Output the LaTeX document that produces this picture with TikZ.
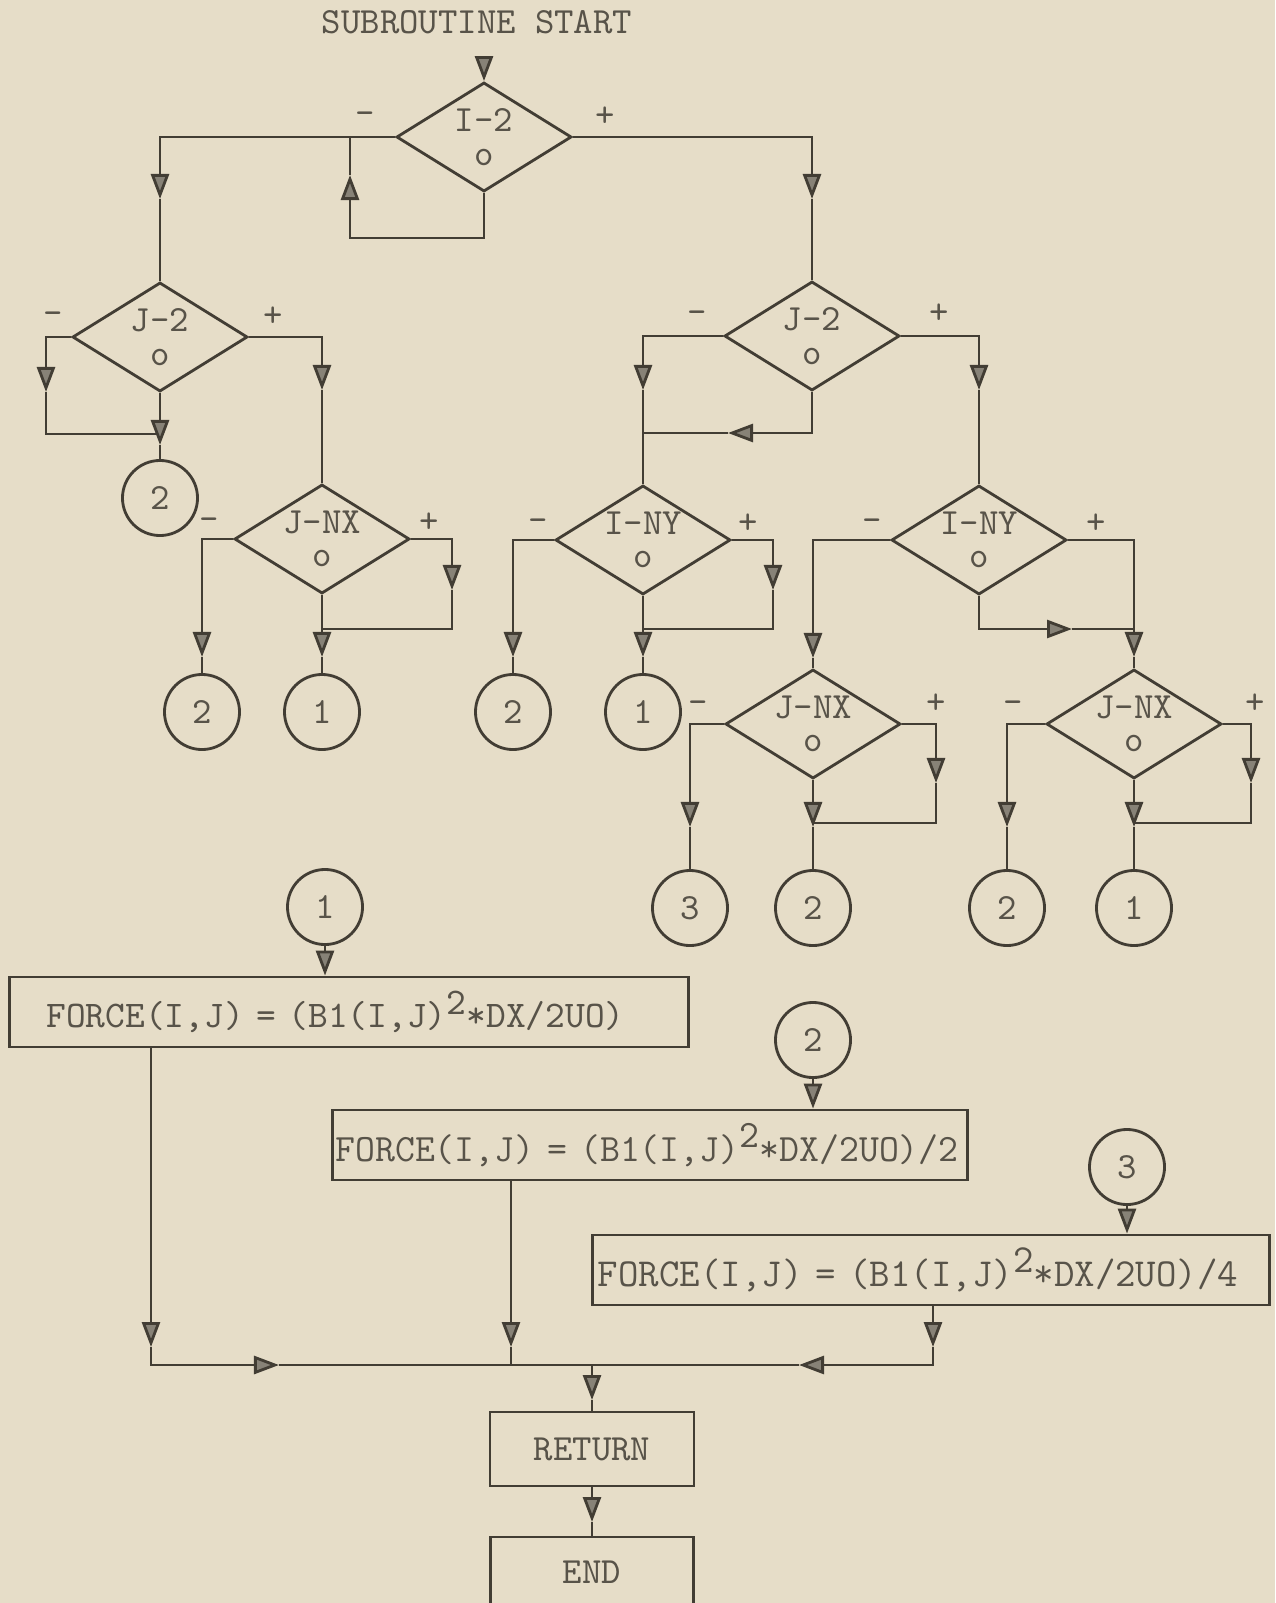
\documentclass[tikz,border=0pt]{standalone}
\usepackage{tikz}
\usetikzlibrary{shapes.geometric, arrows.meta, positioning, calc}

\definecolor{paper}{RGB}{230,221,200}
\definecolor{ink}{RGB}{66,61,52}
\definecolor{tipgray}{RGB}{135,130,119}
\definecolor{typed}{RGB}{88,83,73}

\begin{document}
\begin{tikzpicture}[x=0.01cm, y=-0.01cm,
    every node/.style={text=typed, font=\ttfamily\fontsize{10.5}{9.5}\selectfont},
    dec/.style={diamond, draw=ink, line width=0.8pt, aspect=1.6, minimum width=1.75cm, minimum height=1.09cm, inner sep=0pt, align=center},
    conn/.style={circle, draw=ink, line width=0.8pt, minimum size=0.75cm, inner sep=0pt},
    proc/.style={rectangle, draw=ink, line width=0.8pt, minimum height=0.70cm, align=left},
    wire/.style={draw=ink, line width=0.8pt},
    flow/.style={wire, -{Triangle[length=0.25cm, width=0.18cm, fill=tipgray]}},
    signlbl/.style={inner sep=1pt}]

      % Papier
      \fill[paper] (0,0) rectangle (1275,1603);
      \useasboundingbox (0,0) rectangle (1275,1603);

      % Start
      \node (start) at (477,22) {SUBROUTINE START};
      \node[dec] (dec1) at (484,137) {I-2\\o};

      % Linker Zweig
      \node[dec] (dec2) at (160,337) {J-2\\o};
      \node[dec] (dec3) at (322,539) {J-NX\\o};
      \node[conn] (con1) at (160,498) {2};
      \node[conn] (con2) at (202,712) {2};
      \node[conn] (con3) at (322,712) {1};

      % Rechter Zweig
      \node[dec] (dec4) at (812,336) {J-2\\o};
      \node[dec] (dec5) at (643,540) {I-NY\\o};
      \node[dec] (dec6) at (979,540) {I-NY\\o};
      \node[dec] (dec7) at (813,724) {J-NX\\o};
      \node[dec] (dec8) at (1134,724) {J-NX\\o};
      \node[conn] (con4) at (513,712) {2};
      \node[conn] (con5) at (643,712) {1};
      \node[conn] (con6) at (690,908) {3};
      \node[conn] (con7) at (813,908) {2};
      \node[conn] (con8) at (1007,908) {2};
      \node[conn] (con9) at (1134,908) {1};

      % Vorzeichen
      \node[signlbl, above left=0.08cm and 0.16cm of dec1.west] {-};
      \node[signlbl, above right=0.06cm and 0.18cm of dec1.east] {+};
      \node[signlbl, above left=0.08cm and 0.04cm of dec2.west] {-};
      \node[signlbl, above right=0.06cm and 0.1cm of dec2.east] {+};
      \node[signlbl, above left=0.04cm and 0.1cm of dec3.west] {-};
      \node[signlbl, above right=0.02cm and 0.04cm of dec3.east] {+};
      \node[signlbl, above left=0.08cm and 0.12cm of dec4.west] {-};
      \node[signlbl, above right=0.08cm and 0.24cm of dec4.east] {+};
      \node[signlbl, above left=0.04cm and 0.02cm of dec5.west] {-};
      \node[signlbl, above right=0.02cm and 0.02cm of dec5.east] {+};
      \node[signlbl, above left=0.04cm and 0.04cm of dec6.west] {-};
      \node[signlbl, above right=0.02cm and 0.14cm of dec6.east] {+};
      \node[signlbl, above left=0.06cm and 0.12cm of dec7.west] {-};
      \node[signlbl, above right=0.06cm and 0.2cm of dec7.east] {+};
      \node[signlbl, above left=0.06cm and 0.18cm of dec8.west] {-};
      \node[signlbl, above right=0.06cm and 0.18cm of dec8.east] {+};

      % Unterer Teil
      \node[conn] (con10) at (325,907) {1};
      \node[conn] (con11) at (813,1040) {2};
      \node[conn] (con12) at (1127,1167) {3};
      \node[proc, text width=6.05cm, inner xsep=0.37cm, font=\ttfamily\fontsize{10.7}{12}\selectfont] (proc1) at (349,1012) {FORCE(I,J) = (B1(I,J)\raisebox{0.8ex}{2}*DX/2UO)};
      \node[proc, text width=6.29cm, inner xsep=0.03cm, font=\ttfamily\fontsize{11}{12}\selectfont] (proc2) at (650,1145) {FORCE(I,J) = (B1(I,J)\raisebox{0.8ex}{2}*DX/2UO)/2};
      \node[proc, text width=6.66cm, inner xsep=0.05cm, font=\ttfamily\fontsize{11.3}{12}\selectfont] (proc3) at (931,1270) {FORCE(I,J) = (B1(I,J)\raisebox{0.8ex}{2}*DX/2UO)/4};
      \node[proc, minimum width=2.04cm, minimum height=0.74cm] (ret) at (592,1449) {RETURN};
      \node[proc, minimum width=2.03cm] (fin) at (592,1572) {END};

      % Pfeil zum ersten Test
      \draw[flow] ([yshift=-0.1cm]start.south -| dec1.north) -- (dec1.north);

      % I-2
      \draw[flow] (dec1.west) -| (160,199) coordinate (t1);
      \draw[wire] (t1) -- (dec2.north);
      \draw[flow] (dec1.south) |- (350,238) -- (350,175) coordinate (t2);
      \draw[wire] (t2) -- (t2 |- dec1.west);
      \draw[flow] (dec1.east) -| (812,199) coordinate (t3);
      \draw[wire] (t3) -- (dec4.north);

      % J-2 links
      \draw[flow] (dec2.west) -| (46,392) coordinate (t4);
      \draw[wire] (t4) |- (160,434);
      \draw[flow] (dec2.south) -- (160,445) coordinate (t5);
      \draw[wire] (t5) -- (con1.north);
      \draw[flow] (dec2.east) -| (322,390) coordinate (t6);
      \draw[wire] (t6) -- (dec3.north);

      % J-NX links
      \draw[flow] (dec3.west) -| (202,657) coordinate (t7);
      \draw[wire] (t7) -- (con2.north);
      \draw[flow] (dec3.south) -- (322,657) coordinate (t8);
      \draw[wire] (t8) -- (con3.north);
      \draw[flow] (dec3.east) -| (452,590) coordinate (t9);
      \draw[wire] (t9) |- (322,629);

      % J-2 rechts
      \draw[flow] (dec4.west) -| (643,390) coordinate (t10);
      \draw[wire] (t10) -- (dec5.north);
      \draw[flow] (dec4.south) |- (728,433) coordinate (t11);
      \draw[wire] (t11) -- (643,433);
      \draw[flow] (dec4.east) -| (979,390) coordinate (t12);
      \draw[wire] (t12) -- (dec6.north);

      % I-NY links
      \draw[flow] (dec5.west) -| (513,657) coordinate (t13);
      \draw[wire] (t13) -- (con4.north);
      \draw[flow] (dec5.south) -- (643,657) coordinate (t14);
      \draw[wire] (t14) -- (con5.north);
      \draw[flow] (dec5.east) -| (773,590) coordinate (t15);
      \draw[wire] (t15) |- (643,629);

      % I-NY rechts
      \draw[flow] (dec6.west) -| (813,658) coordinate (t16);
      \draw[wire] (t16) -- (dec7.north);
      \draw[flow] (dec6.east) -| (1134,657) coordinate (t17);
      \draw[wire] (t17) -- (dec8.north);
      \draw[flow] (dec6.south) |- (1072,629) coordinate (t18);
      \draw[wire] (t18) -- (1134,629);

      % J-NX Mitte
      \draw[flow] (dec7.west) -| (690,827) coordinate (t19);
      \draw[wire] (t19) -- (con6.north);
      \draw[flow] (dec7.south) -- (813,827) coordinate (t20);
      \draw[wire] (t20) -- (con7.north);
      \draw[flow] (dec7.east) -| (936,783) coordinate (t21);
      \draw[wire] (t21) |- (813,823);

      % J-NX rechts
      \draw[flow] (dec8.west) -| (1007,827) coordinate (t22);
      \draw[wire] (t22) -- (con8.north);
      \draw[flow] (dec8.south) -- (1134,827) coordinate (t23);
      \draw[wire] (t23) -- (con9.north);
      \draw[flow] (dec8.east) -| (1251,783) coordinate (t24);
      \draw[wire] (t24) |- (1134,823);

      % Konnektoren zu den Kaesten
      \draw[flow] (con10.south) -- (con10.south |- proc1.north);
      \draw[flow] (con11.south) -- (con11.south |- proc2.north);
      \draw[flow] (con12.south) -- (con12.south |- proc3.north);

      % Sammelleitung
      \coordinate (m1) at (151,1365);
      \coordinate (m2) at (511,1365);
      \coordinate (m3) at (933,1365);
      \coordinate (jn) at (592,1365);
      \draw[flow] (proc1.south -| m1) -- (151,1347) coordinate (t25);
      \draw[flow] (t25) -- (m1) -- (279,1365) coordinate (t26);
      \draw[wire] (t26) -- (jn);
      \draw[flow] (proc2.south -| m2) -- (511,1347) coordinate (t27);
      \draw[wire] (t27) -- (m2);
      \draw[flow] (proc3.south -| m3) -- (933,1347) coordinate (t28);
      \draw[flow] (t28) -- (m3) -- (799,1365) coordinate (t29);
      \draw[wire] (t29) -- (jn);
      \draw[flow] (jn) -- (592,1400) coordinate (t30);
      \draw[wire] (t30) -- (ret.north);
      \draw[flow] (ret.south) -- (592,1522) coordinate (t31);
      \draw[wire] (t31) -- (fin.north);

\end{tikzpicture}
\end{document}
